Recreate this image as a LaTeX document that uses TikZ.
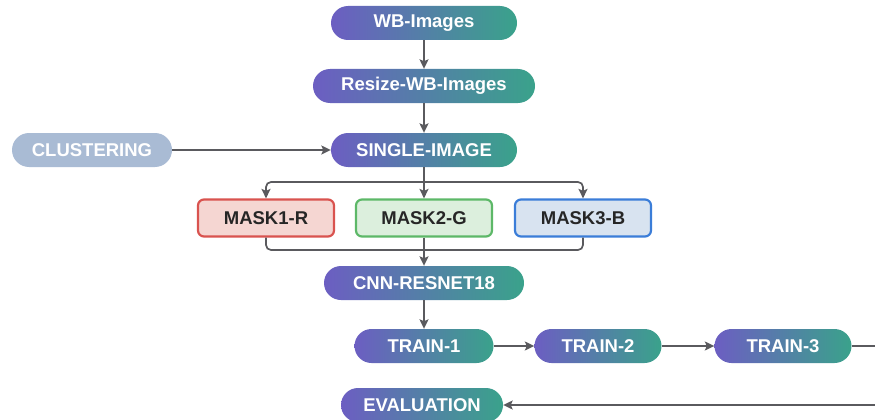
\documentclass[tikz,border=0pt]{standalone}
\usepackage{fontspec}
\setmainfont{Liberation Sans}
\usetikzlibrary{arrows.meta}
\definecolor{gpurple}{HTML}{6C5EC2}
\definecolor{gteal}{HTML}{3AA28B}
\definecolor{clusc}{HTML}{A9BBD4}
\definecolor{linec}{HTML}{5A5A5E}
\definecolor{rfill}{HTML}{F5D6D2}
\definecolor{rdraw}{HTML}{D9534F}
\definecolor{gfill}{HTML}{DCEFDD}
\definecolor{gdraw}{HTML}{5DB868}
\definecolor{bfill}{HTML}{D8E3F0}
\definecolor{bdraw}{HTML}{3B7DD8}
\begin{document}
\begin{tikzpicture}[x=1pt,y=-1pt,
  pillbase/.style={rectangle, rounded corners=17pt, minimum height=34pt, inner sep=0pt,
    text=white, font=\fontsize{18.5}{21}\selectfont\bfseries},
  pill/.style={pillbase, left color=gpurple, right color=gteal},
  maskbox/.style={rectangle, rounded corners=6pt, minimum width=136pt, minimum height=37pt,
    inner sep=0pt, line width=2.2pt, text=black!85, font=\fontsize{18.5}{21}\selectfont\bfseries},
  line/.style={draw=linec, line width=1.7pt},
  conn/.style={line, -{Stealth[length=9.5pt,width=9pt,inset=2pt]}}
]
\useasboundingbox (0,0) rectangle (875,420);
\clip (0,0) rectangle (875,420);

\node[pill, minimum width=186pt] (wb) at (424,23) {WB-Images};
\node[pill, minimum width=222pt] (resize) at (424,86) {Resize-WB-Images};
\node[pill, minimum width=186pt] (single) at (424,150) {SINGLE-IMAGE};
\node[pillbase, minimum width=160pt, fill=clusc] (clus) at (92,150) {CLUSTERING};

\node[maskbox, fill=rfill, draw=rdraw] (m1) at (266,218) {MASK1-R};
\node[maskbox, fill=gfill, draw=gdraw] (m2) at (424,218) {MASK2-G};
\node[maskbox, fill=bfill, draw=bdraw] (m3) at (583,218) {MASK3-B};

\node[pill, minimum width=200pt] (cnn) at (424,283) {CNN-RESNET18};
\node[pill, minimum width=139pt] (t1) at (424,346) {TRAIN-1};
\node[pill, minimum width=127pt] (t2) at (598,346) {TRAIN-2};
\node[pill, minimum width=137pt] (t3) at (783,346) {TRAIN-3};
\node[pill, minimum width=162pt] (eval) at (422,405) {EVALUATION};

\draw[conn] (wb) -- (resize);
\draw[conn] (resize) -- (single);
\draw[conn] (clus) -- (single);

\coordinate (split) at (424,182);
\draw[line] (single.south) -- (split);
\draw[conn, rounded corners=5pt] (split) -| (m1.north);
\draw[conn] (split) -- (m2.north);
\draw[conn, rounded corners=5pt] (split) -| (m3.north);

\coordinate (merge) at (424,250);
\draw[line, rounded corners=5pt] (m1.south) |- (merge);
\draw[line, rounded corners=5pt] (m3.south) |- (merge);
\draw[conn] (m2.south) -- (cnn.north);

\draw[conn] (cnn) -- (t1);
\draw[conn] (t1) -- (t2);
\draw[conn] (t2) -- (t3);
\coordinate (offr) at (895,346);
\draw[conn] (t3.east) -- (offr) |- (eval.east);
\end{tikzpicture}
\end{document}
